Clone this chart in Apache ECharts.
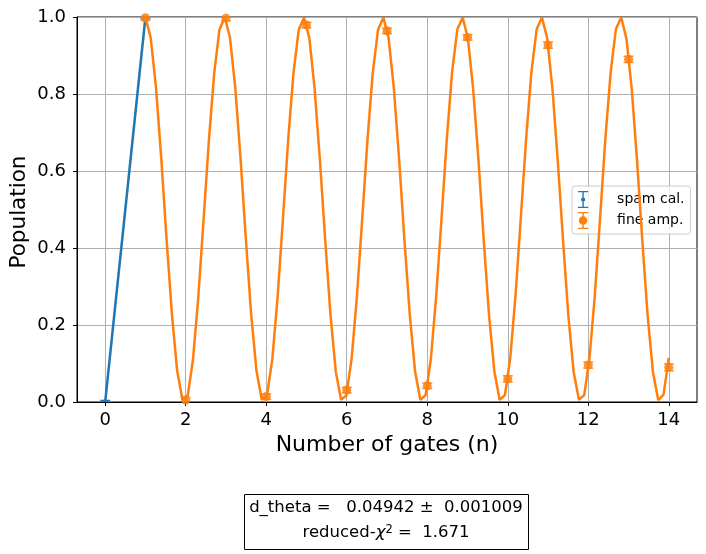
<!DOCTYPE html>
<html>
<head>
    <meta charset="utf-8">
    <title>fine amp</title>
    <script src="https://cdn.jsdelivr.net/npm/echarts@6/dist/echarts.min.js"></script>
    <style type="text/css">
        * { margin: 0; padding: 0; }
        body { background: #fff; }
    </style>
</head>
<body>
<div id="main" style="width: 706px; height: 554px;"></div>
<script type="text/javascript">
// data
var spamGates = [0, 1];
var spamPop = [0.0, 1.0];
var spamErr = [0.004, 0.004];

var gates = [1, 2, 3, 4, 5, 6, 7, 8, 9, 10, 11, 12, 13, 14];
var fineAmp = [0.998, 0.005, 0.997, 0.014, 0.979, 0.031, 0.964, 0.042, 0.947, 0.060, 0.927, 0.096, 0.890, 0.090];
var fineErr = [0.007, 0.007, 0.007, 0.007, 0.007, 0.007, 0.007, 0.007, 0.007, 0.008, 0.008, 0.008, 0.008, 0.009];

// fitted curve samples
var fitX = [1.000, 1.131, 1.263, 1.394, 1.525, 1.657, 1.788, 1.919, 2.051, 2.182,
    2.313, 2.444, 2.576, 2.707, 2.838, 2.970, 3.101, 3.232, 3.364, 3.495,
    3.626, 3.758, 3.889, 4.020, 4.152, 4.283, 4.414, 4.545, 4.677, 4.808,
    4.939, 5.071, 5.202, 5.333, 5.465, 5.596, 5.727, 5.859, 5.990, 6.121,
    6.253, 6.384, 6.515, 6.646, 6.778, 6.909, 7.040, 7.172, 7.303, 7.434,
    7.566, 7.697, 7.828, 7.960, 8.091, 8.222, 8.354, 8.485, 8.616, 8.747,
    8.879, 9.010, 9.141, 9.273, 9.404, 9.535, 9.667, 9.798, 9.929, 10.061,
    10.192, 10.323, 10.455, 10.586, 10.717, 10.848, 10.980, 11.111, 11.242, 11.374,
    11.505, 11.636, 11.768, 11.899, 12.030, 12.162, 12.293, 12.424, 12.556, 12.687,
    12.818, 12.949, 13.081, 13.212, 13.343, 13.475, 13.606, 13.737, 13.869, 14.000];
var fitY = [0.999, 0.946, 0.816, 0.631, 0.423, 0.229, 0.081, 0.006, 0.017, 0.111,
    0.272, 0.473, 0.679, 0.853, 0.967, 0.999, 0.946, 0.815, 0.630, 0.422,
    0.228, 0.081, 0.006, 0.017, 0.112, 0.273, 0.474, 0.680, 0.854, 0.967,
    0.999, 0.945, 0.814, 0.629, 0.421, 0.227, 0.080, 0.006, 0.017, 0.112,
    0.274, 0.475, 0.681, 0.855, 0.967, 0.999, 0.945, 0.813, 0.628, 0.420,
    0.226, 0.080, 0.006, 0.018, 0.113, 0.275, 0.476, 0.682, 0.856, 0.968,
    0.999, 0.944, 0.812, 0.627, 0.419, 0.225, 0.079, 0.006, 0.018, 0.114,
    0.276, 0.477, 0.683, 0.856, 0.968, 0.999, 0.944, 0.812, 0.626, 0.418,
    0.224, 0.078, 0.006, 0.018, 0.114, 0.277, 0.478, 0.684, 0.857, 0.969,
    0.999, 0.943, 0.811, 0.625, 0.417, 0.223, 0.078, 0.005, 0.019, 0.115];

var xTicks = [0, 2, 4, 6, 8, 10, 12, 14];
var yTicks = [0, 0.2, 0.4, 0.6, 0.8, 1.0];

var dTheta = '0.04942';
var dThetaErr = '0.001009';
var redChi2 = '1.671';

var BLUE = '#1f77b4';
var ORANGE = '#ff7f0e';
var FONT = 'DejaVu Sans';

var myChart = echarts.init(document.getElementById('main'));

function zip3(a, b, c) {
    return a.map(function (v, i) { return [v, b[i], c[i]]; });
}

// error bar with caps, optional dot in the middle
function errorBars(color, capHalf, dotR, alpha) {
    return function (params, api) {
        var x = api.value(0), y = api.value(1), e = api.value(2);
        var hi = api.coord([x, y + e]);
        var lo = api.coord([x, y - e]);
        var mid = api.coord([x, y]);
        var st = { stroke: color, lineWidth: 1.5, opacity: alpha };
        var kids = [
            { type: 'line', shape: { x1: hi[0], y1: hi[1], x2: lo[0], y2: lo[1] }, style: st },
            { type: 'line', shape: { x1: hi[0] - capHalf, y1: hi[1], x2: hi[0] + capHalf, y2: hi[1] }, style: st },
            { type: 'line', shape: { x1: lo[0] - capHalf, y1: lo[1], x2: lo[0] + capHalf, y2: lo[1] }, style: st }
        ];
        if (dotR) {
            kids.push({ type: 'circle', shape: { cx: mid[0], cy: mid[1], r: dotR }, style: { fill: color, opacity: alpha } });
        }
        return { type: 'group', children: kids };
    };
}

var spamIcon = 'path://M0,0H12V1.6H0Z M5.2,0H6.8V20H5.2Z M0,18.4H12V20H0Z M6,7.5A2.5,2.5 0 1,1 6,12.5A2.5,2.5 0 1,1 6,7.5Z';
var fineIcon = 'path://M0,0H12V1.6H0Z M5.2,0H6.8V20H5.2Z M0,18.4H12V20H0Z M6,5A5,5 0 1,1 6,15A5,5 0 1,1 6,5Z';

var option = {
    animation: false,
    textStyle: { fontFamily: FONT },
    grid: {
        left: 77, right: 9, top: 17, bottom: 152,
        outerBoundsMode: 'none',
        containLabel: false,
        show: true, borderColor: '#000', borderWidth: 1
    },
    legend: {
        orient: 'vertical',
        left: 572, top: 186,
        padding: [5, 6, 5, 6],
        itemGap: 4,
        itemWidth: 28, itemHeight: 17,
        symbolKeepAspect: true,
        borderColor: '#cccccc', borderWidth: 1, borderRadius: 3,
        backgroundColor: 'rgba(255,255,255,0.8)',
        textStyle: { fontFamily: FONT, fontSize: 14, color: '#000', padding: [0, 0, 0, 15] },
        data: [
            { name: 'spam cal.', icon: spamIcon },
            { name: 'fine amp.', icon: fineIcon }
        ]
    },
    xAxis: {
        type: 'value',
        min: -0.7, max: 14.7,
        name: 'Number of gates (n)',
        nameLocation: 'middle',
        nameGap: 28,
        nameTextStyle: { fontFamily: FONT, fontSize: 22, color: '#000' },
        axisLine: { onZero: false, lineStyle: { color: '#000', width: 1 } },
        axisTick: { length: 4, lineStyle: { color: '#000' }, customValues: xTicks },
        axisLabel: { fontFamily: FONT, fontSize: 18, color: '#000', margin: 9, customValues: xTicks },
        splitLine: { show: true, lineStyle: { color: '#b0b0b0', width: 1 } }
    },
    yAxis: {
        type: 'value',
        min: 0, max: 1, interval: 0.2,
        axisLine: { show: true, onZero: false, lineStyle: { color: '#000', width: 1 } },
        axisTick: { show: true, length: 4, lineStyle: { color: '#000' }, customValues: yTicks },
        axisLabel: {
            fontFamily: FONT, fontSize: 18, color: '#000', margin: 11, customValues: yTicks,
            formatter: function (v) { return v.toFixed(1); }
        },
        splitLine: { show: true, lineStyle: { color: '#b0b0b0', width: 1 } }
    },
    series: [
        {
            name: 'spam fit',
            type: 'line',
            data: spamGates.map(function (g, i) { return [g, spamPop[i]]; }),
            showSymbol: false,
            lineStyle: { color: BLUE, width: 2.5 },
            itemStyle: { color: BLUE },
            z: 2
        },
        {
            name: 'spam cal.',
            type: 'custom',
            clip: true,
            itemStyle: { color: BLUE },
            renderItem: errorBars(BLUE, 5, 2.5, 1),
            encode: { x: 0, y: 1 },
            data: zip3(spamGates, spamPop, spamErr),
            z: 3
        },
        {
            name: 'fine fit',
            type: 'line',
            data: fitX.map(function (x, i) { return [x, fitY[i]]; }),
            showSymbol: false,
            lineStyle: { color: ORANGE, width: 2.5 },
            itemStyle: { color: ORANGE },
            z: 4
        },
        {
            name: 'fine amp.',
            type: 'custom',
            clip: true,
            itemStyle: { color: ORANGE },
            renderItem: errorBars(ORANGE, 5, 0, 0.85),
            encode: { x: 0, y: 1 },
            data: zip3(gates, fineAmp, fineErr),
            z: 5
        },
        {
            name: 'fine amp.',
            type: 'scatter',
            clip: true,
            symbol: 'circle',
            symbolSize: 9,
            itemStyle: { color: ORANGE, opacity: 0.85 },
            data: gates.map(function (g, i) { return [g, fineAmp[i]]; }),
            z: 6
        }
    ],
    graphic: [
        {
            // y-axis title
            type: 'text',
            x: 19, y: 212,
            rotation: Math.PI / 2,
            style: {
                text: 'Population',
                font: '21.5px "DejaVu Sans"',
                fill: '#000',
                align: 'center', verticalAlign: 'middle'
            }
        },
        {
            type: 'rect',
            left: 244, top: 494,
            shape: { width: 284, height: 55 },
            style: { fill: '#fff', stroke: '#000', lineWidth: 1 }
        },
        {
            type: 'text',
            x: 386, y: 508,
            style: {
                text: 'd_theta =   ' + dTheta + ' \u00b1  ' + dThetaErr,
                font: '16.5px "DejaVu Sans"',
                fill: '#000',
                align: 'center', verticalAlign: 'middle'
            }
        },
        {
            type: 'text',
            x: 386, y: 533,
            style: {
                text: '{a|reduced-}{i|\u03c7}{s|2}{a| =  ' + redChi2 + '}',
                align: 'center', verticalAlign: 'middle',
                rich: {
                    a: { font: '16.5px "DejaVu Sans"', fill: '#000', verticalAlign: 'bottom' },
                    i: { font: 'italic 16.5px "DejaVu Sans"', fill: '#000', verticalAlign: 'bottom' },
                    s: { font: '11.5px "DejaVu Sans"', fill: '#000', verticalAlign: 'top' }
                }
            }
        }
    ]
};

myChart.setOption(option);

window.addEventListener('resize', function () {
    myChart.resize();
});
</script>
</body>
</html>
